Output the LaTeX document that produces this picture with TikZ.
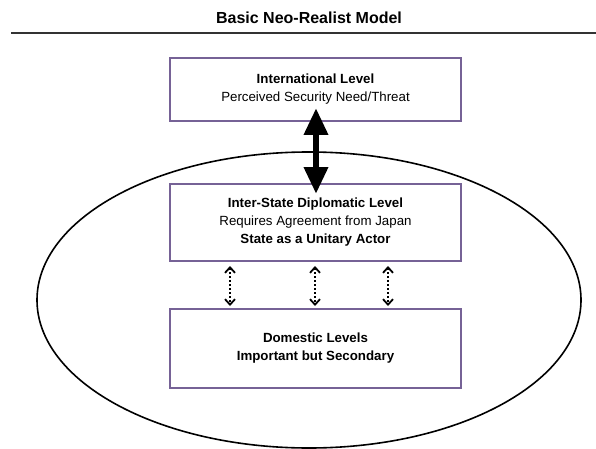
\documentclass[tikz,border=0pt]{standalone}
\usepackage{fontspec}
\setmainfont{Liberation Sans}
\usetikzlibrary{arrows.meta,shapes.geometric}
\definecolor{boxline}{RGB}{118,98,150}
\tikzset{
  level/.style={draw=boxline, line width=2pt, fill=white, minimum width=291pt,
    align=center, font=\fontsize{13.3}{18}\selectfont, inner sep=0pt},
  statering/.style={draw=black, line width=1.6pt, ellipse, minimum width=544pt,
    minimum height=296pt, inner sep=0pt},
  bigarrow/.style={line width=6.5pt, {Triangle[length=27pt,width=23pt]}-{Triangle[length=27pt,width=23pt]}},
  linkarrow/.style={line width=2pt, dotted, {Straight Barb[length=5.5pt,width=10pt,line width=1.8pt]}-{Straight Barb[length=5.5pt,width=10pt,line width=1.8pt]}},
}
\begin{document}
\begin{tikzpicture}[x=1pt,y=-1pt]
\useasboundingbox (0,0) rectangle (596,449);
\fill[white] (0,0) rectangle (596,449);

% heading and rule
\node[font=\fontsize{16}{19}\selectfont\bfseries] (title) at (309,18) {Basic Neo-Realist Model};
\draw[line width=1.3pt, black!80] (11,33) -- (596,33);

% the state as an ellipse
\node[statering] (state) at (309,300) {};

% the three levels
\node[level, minimum height=63pt] (intl) at (315.5,89.5)
  {\textbf{International Level}\\Perceived Security Need/Threat};
\node[level, minimum height=77pt] (dipl) at (315.5,222.5)
  {\textbf{Inter-State Diplomatic Level}\\Requires Agreement from Japan\\\textbf{State as a Unitary Actor}};
\node[level, minimum height=79pt] (dom) at (315.5,348.5)
  {\textbf{Domestic Levels}\\\textbf{Important but Secondary}};

% strong international link
\draw[bigarrow, shorten <=-14pt, shorten >=-11pt] ([xshift=0.5pt]intl.south) -- ([xshift=0.5pt]dipl.north);

% weaker domestic links
\foreach \dx in {-85.5,-0.5,72.5}
  \draw[linkarrow, shorten <=4pt, shorten >=2pt] ([xshift=\dx pt]dipl.south) -- ([xshift=\dx pt]dom.north);
\end{tikzpicture}
\end{document}
